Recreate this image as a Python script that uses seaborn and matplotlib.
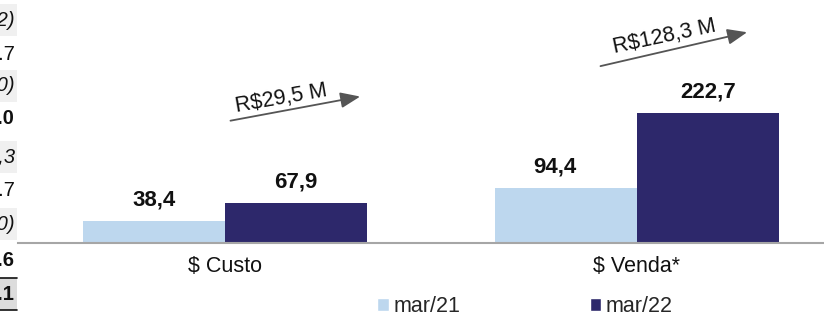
import matplotlib
matplotlib.use("Agg")
import matplotlib.pyplot as plt
from matplotlib.patches import Patch, Rectangle
import pandas as pd
import seaborn as sns

# chart data
categories = ["$ Custo", "$ Venda*"]
periods = ["mar/21", "mar/22"]
values_mar21 = [38.4, 94.4]
values_mar22 = [67.9, 222.7]
labels_mar21 = ["38,4", "94,4"]
labels_mar22 = ["67,9", "222,7"]
growth_labels = ["R$29,5 M", "R$128,3 M"]

# cut-off table fragments on the left edge
table_texts = ["(0,2)", "0.7", "(1,0)", "1.0", "0,3", "0.7", "(1,0)", "1.6", "1.1"]
table_styles = ["italic", "normal", "italic", "bold", "italic", "normal", "italic", "bold", "bold"]

light = "#BDD7EE"
dark = "#2D286B"

df = pd.DataFrame({
    "categoria": categories * 2,
    "periodo": [periods[0]] * 2 + [periods[1]] * 2,
    "valor": values_mar21 + values_mar22,
})

sns.set_theme(style="white")
plt.rcParams["font.family"] = ["Liberation Sans", "DejaVu Sans"]

W, H = 824, 315
fig = plt.figure(figsize=(W / 100, H / 100), dpi=100)
ax = fig.add_axes([18 / W, 72 / H, 1 - 18 / W, 1 - 72 / H])

sns.barplot(data=df, x="categoria", y="valor", hue="periodo",
            palette=[light, dark], saturation=1, width=0.69, gap=0, ax=ax,
            edgecolor="none", linewidth=0, legend=False)

ax.set_xlim(-0.502, 1.454)
ax.set_ylim(0, 415)
ax.set_xlabel("")
ax.set_ylabel("")
ax.set_yticks([])
for s in ["left", "right", "top"]:
    ax.spines[s].set_visible(False)
ax.spines["bottom"].set_color("#A6A6A6")
ax.spines["bottom"].set_linewidth(1.5)
ax.tick_params(axis="x", length=0, pad=9, labelsize=15.5, labelcolor="#111111")

# value labels
for i, cont in enumerate(ax.containers):
    labels = labels_mar21 if i == 0 else labels_mar22
    for j, (bar, lab) in enumerate(zip(cont, labels)):
        dx = -8 if (i == 0 and j == 1) else 0
        ax.annotate(lab, (bar.get_x() + bar.get_width() / 2, bar.get_height()),
                    xytext=(dx, 15), textcoords="offset points",
                    ha="center", va="center", fontsize=16, fontweight="bold",
                    color="#111111")

# growth arrows
arrows = [((0.007, 208), (0.335, 251), (0.138, 246), 10),
          ((0.905, 301), (1.274, 361), (1.068, 352), 12)]
for (start, end, txt, rot), lab in zip(arrows, growth_labels):
    ax.annotate("", xy=end, xytext=start,
                arrowprops=dict(arrowstyle="-|>,head_length=1.0,head_width=0.4",
                                color="#555555", lw=1.3))
    ax.text(txt[0], txt[1], lab, ha="center", va="center", rotation=rot,
            fontsize=15.5, color="#111111")

# legend
handles = [Patch(facecolor=light, label=periods[0]),
           Patch(facecolor=dark, label=periods[1])]
fig.legend(handles=handles, loc="center", bbox_to_anchor=(525 / W, 1 - 307 / H),
           ncol=2, frameon=False, fontsize=15.5, handlelength=0.55,
           handleheight=0.55, handletextpad=0.2, columnspacing=6.0,
           borderaxespad=0, borderpad=0)

# left table fragments
row_centers = [20, 54, 86, 119, 157, 190, 224, 261, 294]
for k, (t, st) in enumerate(zip(table_texts, table_styles)):
    yc = row_centers[k]
    if k % 2 == 0:
        face = "#DCDCDC" if k == 8 else "#F0F0F0"
        fig.patches.append(Rectangle((0, 1 - (yc + 16) / H), 17 / W, 32 / H,
                                     transform=fig.transFigure, facecolor=face,
                                     edgecolor="none", zorder=0))
    fig.text(15 / W, 1 - yc / H, t, ha="right", va="center", fontsize=14.5,
             fontstyle="italic" if st == "italic" else "normal",
             fontweight="bold" if st == "bold" else "normal", color="#111111")
for yl in [278, 310]:
    fig.add_artist(plt.Line2D([0, 17 / W], [1 - yl / H] * 2, color="#111111",
                              lw=1.2, transform=fig.transFigure))

fig.savefig("out.png", dpi=100)
